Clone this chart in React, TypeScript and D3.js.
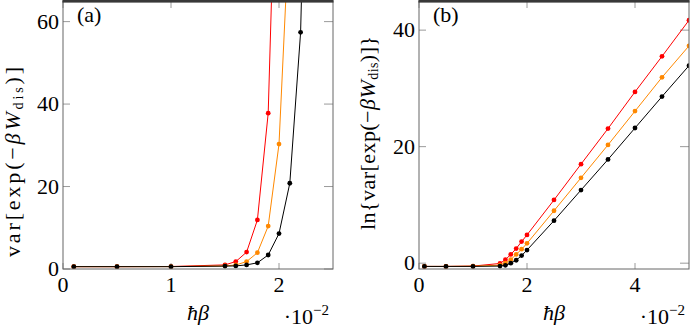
// import d3 for the drawing
import * as d3 from "d3";

// import hooks from React
import { useRef, useEffect } from "react";

// x values (hbar*beta) for panel (a)
const xA = [0.001, 0.005, 0.01, 0.015, 0.016, 0.017, 0.018, 0.019, 0.02, 0.021, 0.022, 0.023];
// var[exp(-beta W)] for each series, panel (a)
const redA = [0.57, 0.57, 0.6, 1.0, 1.8, 4.1, 11.9, 37.8, 128];
const orangeA = [0.57, 0.57, 0.58, 0.75, 0.97, 1.8, 3.95, 10.4, 30.3, 86];
const blackA = [0.57, 0.57, 0.57, 0.7, 0.75, 1.0, 1.5, 3.4, 8.6, 20.8, 57.4, 160];

// x values for panel (b)
const xB = [0.001, 0.005, 0.01, 0.015, 0.016, 0.017, 0.018, 0.019, 0.02, 0.025, 0.03, 0.035, 0.04, 0.045, 0.05];
// ln{var[...]} for each series, panel (b)
const redB = [-0.56, -0.56, -0.5, -0.05, 0.6, 1.5, 2.5, 3.7, 4.85, 10.85, 17.0, 23.1, 29.4, 35.5, 41.7];
const orangeB = [-0.56, -0.56, -0.52, -0.35, 0.0, 0.6, 1.5, 2.4, 3.4, 9.0, 14.65, 20.3, 26.1, 31.9, 37.3];
const blackB = [-0.56, -0.56, -0.55, -0.5, -0.37, 0.0, 0.5, 1.3, 2.25, 7.3, 12.55, 17.8, 23.2, 28.6, 33.9];

// tick values
const xTicksA = [0, 0.01, 0.02];
const yTicksA = [0, 20, 40, 60];
const xTicksB = [0, 0.02, 0.04];
const yTicksB = [0, 20, 40];

const colors = ["#ff0000", "#ff8800", "#000000"];
const FONT = '"Liberation Serif", "DejaVu Serif", "Times New Roman", serif';

function drawPanel(svg, opt) {
    const { left, right, top, bottom, xDomain, yDomain, xs, series, xTicks, yTicks, tag, id, labelX, labelY, labelLen, prefix } = opt;

    const x = d3.scaleLinear().domain(xDomain).range([left, right]);
    const y = d3.scaleLinear().domain(yDomain).range([bottom, top]);

    // clip for the data
    svg.append("clipPath").attr("id", id).append("rect")
        .attr("x", left).attr("y", top - 1).attr("width", right - left).attr("height", bottom - top + 4);

    // tick marks, inward on all four sides
    const tk = svg.append("g").attr("stroke", "#9a9a9a").attr("stroke-width", 1);
    xTicks.forEach(t => {
        tk.append("line").attr("x1", x(t)).attr("x2", x(t)).attr("y1", bottom).attr("y2", bottom - 6);
        tk.append("line").attr("x1", x(t)).attr("x2", x(t)).attr("y1", top).attr("y2", top + 7);
    });
    yTicks.forEach(t => {
        tk.append("line").attr("x1", left).attr("x2", left + 7).attr("y1", y(t)).attr("y2", y(t));
        tk.append("line").attr("x1", right).attr("x2", right - 9).attr("y1", y(t)).attr("y2", y(t));
    });

    // series lines and markers
    const g = svg.append("g").attr("clip-path", `url(#${id})`);
    series.forEach((vals, i) => {
        const pts = vals.map((v, k) => [xs[k], v]);
        const line = d3.line().x(d => x(d[0])).y(d => y(d[1]));
        g.append("path").attr("d", line(pts)).attr("fill", "none").attr("stroke", colors[i]).attr("stroke-width", 1);
        g.selectAll(null).data(pts).enter().append("circle")
            .attr("cx", d => x(d[0])).attr("cy", d => y(d[1])).attr("r", 2.4).attr("fill", colors[i]);
    });

    // frame
    svg.append("rect").attr("x", left).attr("y", top).attr("width", right - left).attr("height", bottom - top)
        .attr("fill", "none").attr("stroke", "#666").attr("stroke-width", 1);
    svg.append("rect").attr("x", left - 0.5).attr("y", 0).attr("width", right - left + 1).attr("height", 2.6).attr("fill", "#383838");

    // tick labels
    const txt = svg.append("g").style("font-family", FONT).style("font-size", "22px").attr("fill", "#000");
    xTicks.forEach(t => {
        txt.append("text").attr("x", x(t)).attr("y", 292).attr("text-anchor", "middle").text(d3.format("d")(t * 100));
    });
    yTicks.forEach(t => {
        txt.append("text").attr("x", left - 4).attr("y", y(t) + 7).attr("text-anchor", "end").text(t);
    });

    // panel tag
    txt.append("text").attr("x", left + 14).attr("y", 22).text(tag);

    // x label
    txt.append("text").attr("x", (left + right) / 2).attr("y", 320).attr("text-anchor", "middle")
        .style("font-style", "italic").text("\u0127\u03B2");

    // scale factor
    const sf = txt.append("text").attr("x", right - 4).attr("y", 324).attr("text-anchor", "end");
    sf.append("tspan").text("\u00B710");
    sf.append("tspan").attr("dy", -9).style("font-size", "15px").text("\u22122");

    // y label, rotated
    const yl = txt.append("text").attr("transform", `translate(${labelX},${labelY}) rotate(-90)`)
        .attr("text-anchor", "middle").attr("textLength", labelLen).attr("lengthAdjust", "spacing");
    yl.append("tspan").text(prefix + "var[exp(\u2212");
    yl.append("tspan").style("font-style", "italic").text("\u03B2W");
    yl.append("tspan").style("font-size", "14px").attr("dy", 3).text("dis");
    yl.append("tspan").attr("dy", -3).text(prefix ? ")]}" : ")]");
}

export default function App() {
    const svgRef = useRef(null);

    useEffect(() => {
        const svg = d3.select(svgRef.current);
        svg.selectAll("*").remove();

        drawPanel(svg, {
            left: 63, right: 333, top: 1, bottom: 269,
            xDomain: [0, 0.025], yDomain: [0, 65],
            xs: xA, series: [redA, orangeA, blackA],
            xTicks: xTicksA, yTicks: yTicksA,
            tag: "(a)", id: "clipA", labelX: 20, labelY: 162, labelLen: 190, prefix: ""
        });

        drawPanel(svg, {
            left: 419, right: 689, top: 1, bottom: 269,
            xDomain: [0, 0.05], yDomain: [-1, 45],
            xs: xB, series: [redB, orangeB, blackB],
            xTicks: xTicksB, yTicks: yTicksB,
            tag: "(b)", id: "clipB", labelX: 375, labelY: 133, labelLen: 194, prefix: "ln{"
        });
    }, []);

    return (
        <svg ref={svgRef} width={691} height={328}
            style={{ position: "absolute", left: 0, top: 0, background: "#fff" }} />
    );
}
